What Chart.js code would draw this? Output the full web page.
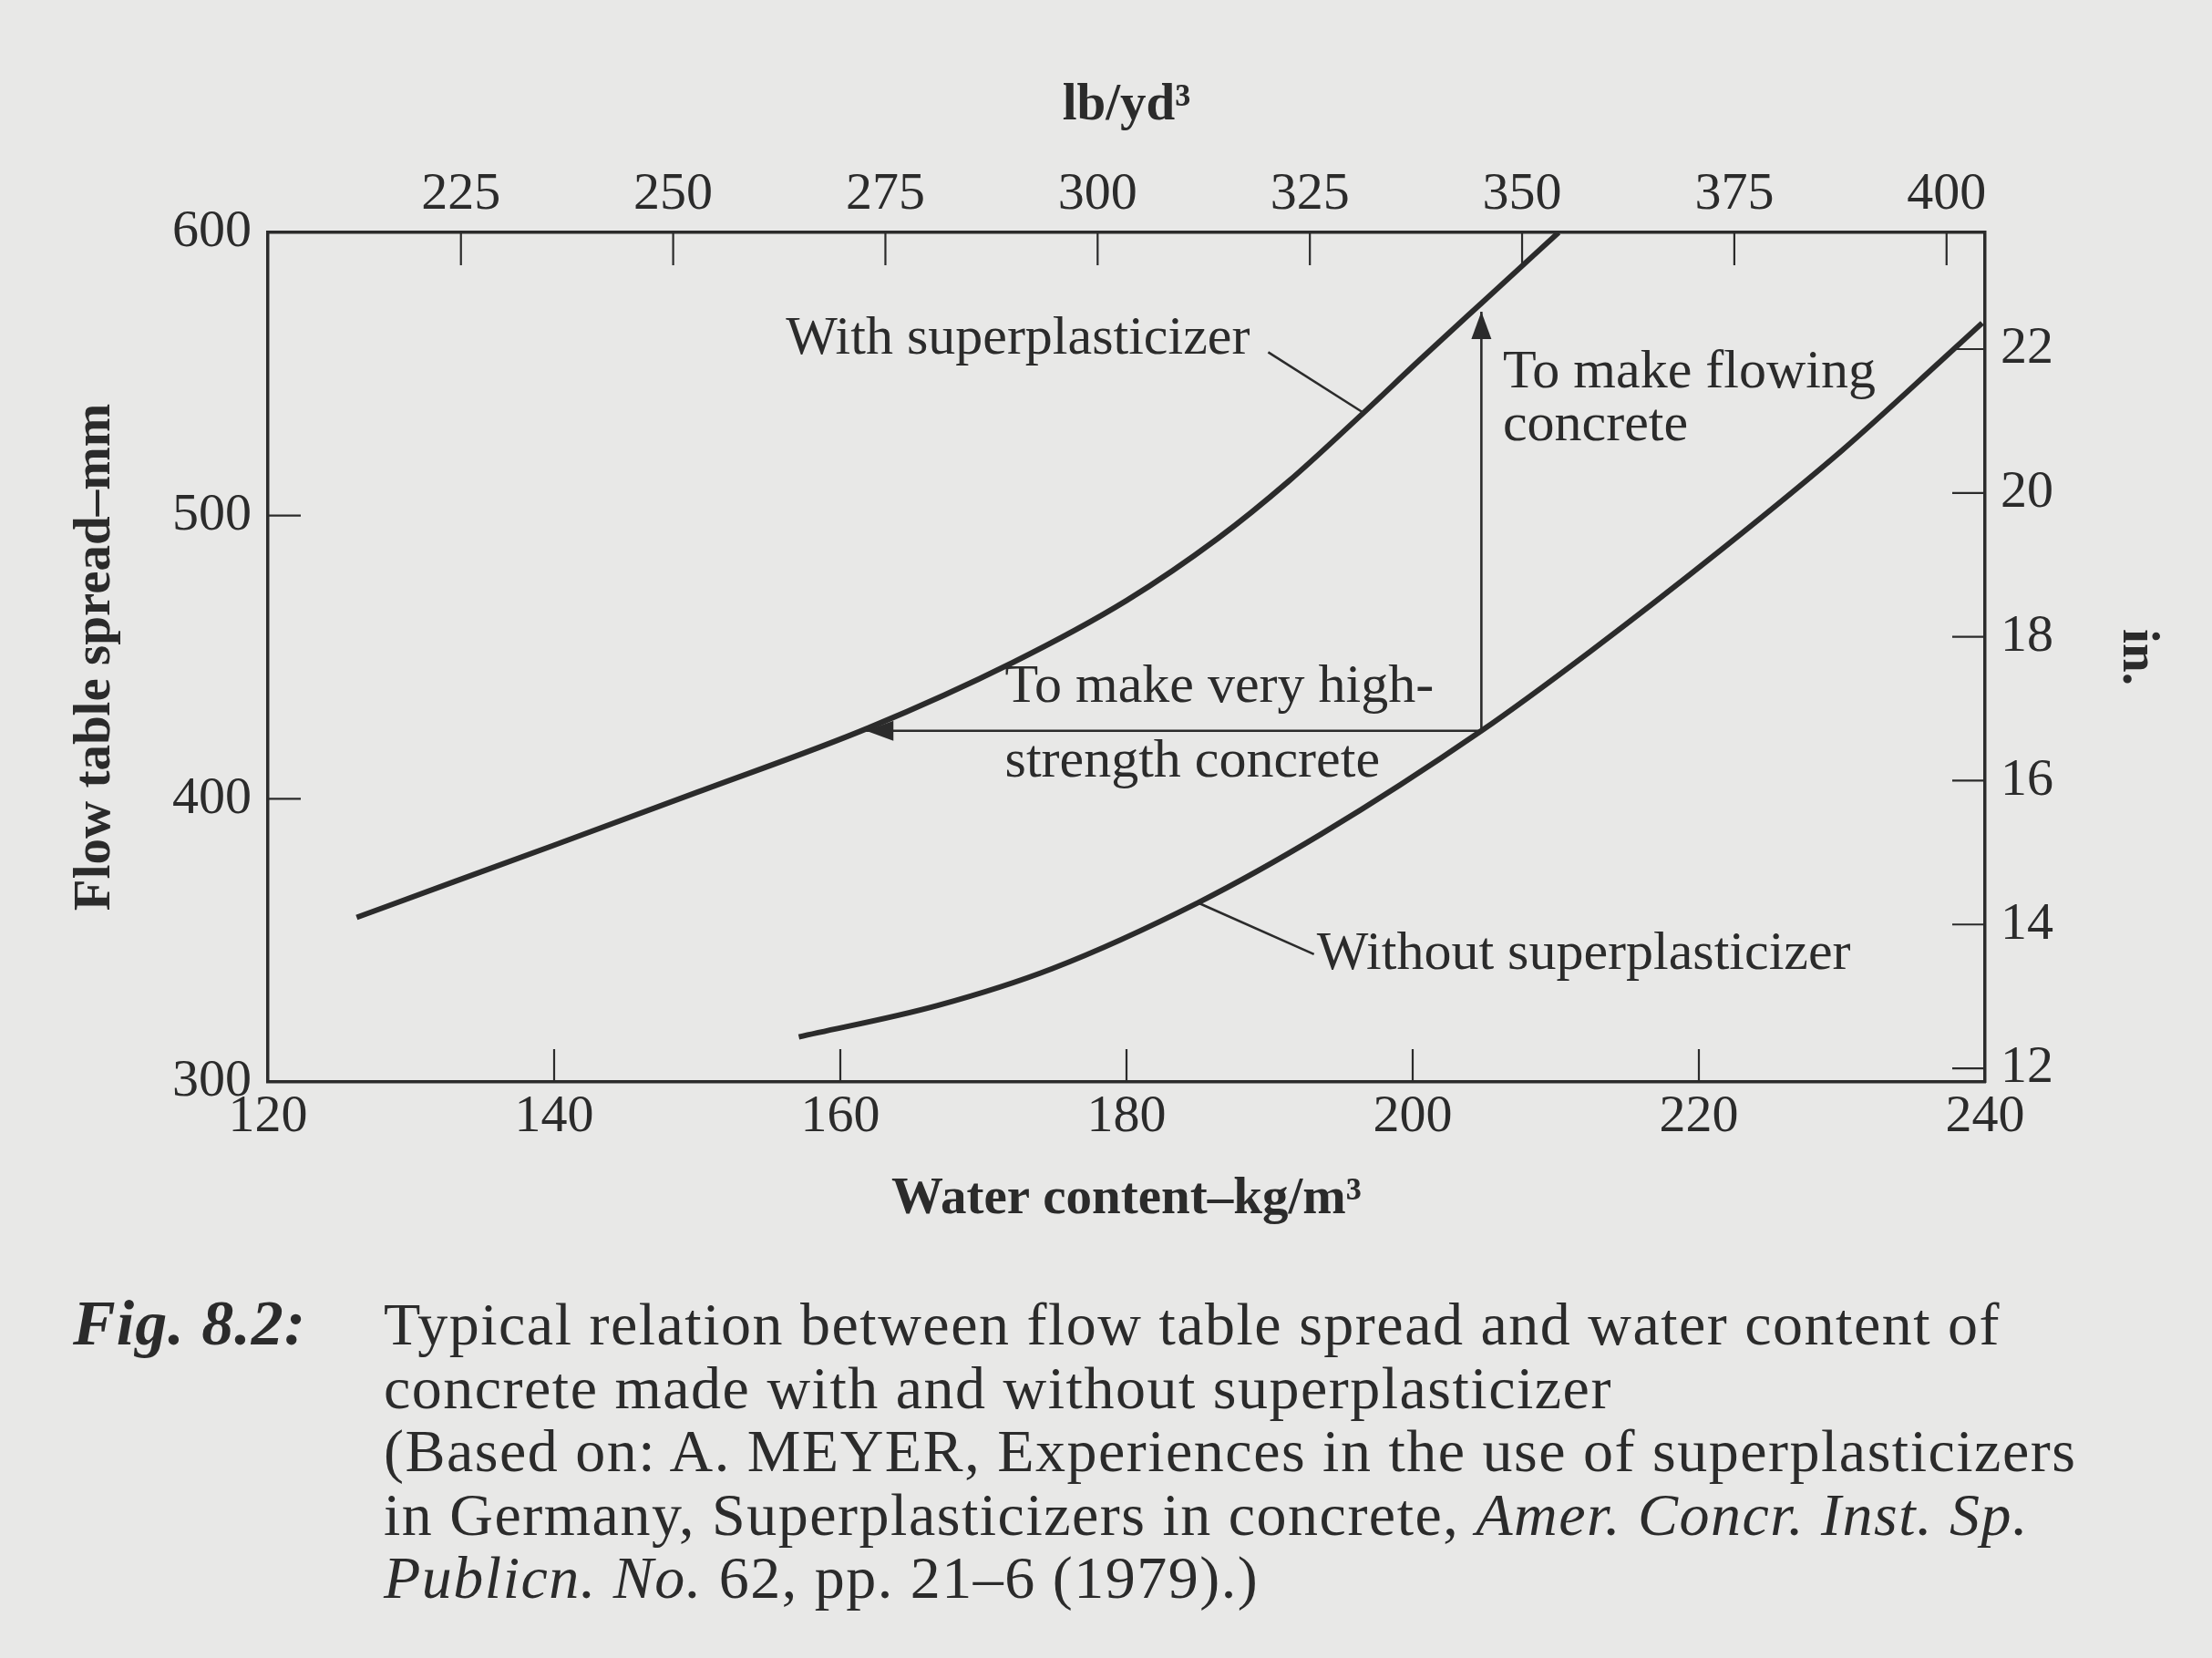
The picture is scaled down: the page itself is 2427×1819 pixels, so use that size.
<!DOCTYPE html>
<html>
<head>
<meta charset="utf-8">
<script src="https://cdn.jsdelivr.net/npm/chart.js@4.4.0/dist/chart.umd.min.js"></script>
<style>
html,body{margin:0;padding:0;background:#e8e8e7;}
#wrap{position:relative;width:2427px;height:1819px;overflow:hidden;background:#e8e8e7;}
canvas{position:absolute;left:0;top:0;}
.cap{position:absolute;font-family:"Liberation Serif","Times New Roman",serif;color:#2b2b2b;font-size:66px;line-height:69.5px;letter-spacing:1.5px;white-space:nowrap;}
</style>
</head>
<body>
<div id="wrap">
<canvas id="c" width="2427" height="1819" style="width:2427px;height:1819px"></canvas>
<div class="cap" style="left:80px;top:1417px;font-weight:bold;font-style:italic;font-size:70px;letter-spacing:1px;">Fig. 8.2:</div>
<div class="cap" style="left:421px;top:1418px;">Typical relation between flow table spread and water content of<br>concrete made with and without superplasticizer<br>(Based on: A. MEYER, Experiences in the use of superplasticizers<br>in Germany, Superplasticizers in concrete, <i>Amer. Concr. Inst. Sp.</i><br><i>Publicn. No.</i> 62, pp. 21–6 (1979).)</div>
</div>
<script>
// ---- data (water content kg/m3 vs flow table spread mm) ----
const withX = [126.2, 133, 140, 150, 162, 172, 180, 186.4, 191.3, 196.5, 200.5, 204.8, 210.2];
const withY = [358.1, 370.7, 383.6, 402.3, 425.1, 448, 470, 492, 512, 536, 555, 575, 600];
const withoutX = [157.1, 166.8, 174.8, 185, 193.6, 204.8, 212.4, 221.7, 230, 237, 239.8];
const withoutY = [315.9, 327, 340, 363.3, 387.5, 424, 452, 488.5, 523, 555, 568];
const xTicks = [120, 140, 160, 180, 200, 220, 240];
const yTicks = [300, 400, 500, 600];
const lbTicks = [225, 250, 275, 300, 325, 350, 375, 400];
const inTicks = [12, 14, 16, 18, 20, 22];
// arrows & leader lines in data coordinates [x1, y1, x2, y2]
const arrowFlowing = [204.8, 424, 204.8, 572];
const arrowStrength = [204.8, 424, 161.8, 424];
const leaderWith = [189.9, 557.7, 196.5, 536.5];
const leaderWithout = [184.9, 363.5, 193.1, 345.1];
// annotation text anchors (data coords, left / baseline)
const notes = [
  {text: 'With superplasticizer', x: 156.2, y: 557.2},
  {text: 'To make flowing', x: 206.3, y: 545.3},
  {text: 'concrete', x: 206.3, y: 526.6},
  {text: 'To make very high-', x: 171.5, y: 434.2},
  {text: 'strength concrete', x: 171.5, y: 407.8},
  {text: 'Without superplasticizer', x: 193.3, y: 339.9}
];
const LB_PER_KG = 1.68556;   // kg/m3 -> lb/yd3
const MM_PER_IN = 25.4;

const INK = '#2b2b2b';
const FONT = '"Liberation Serif", "Times New Roman", serif';
const tickFont = {family: FONT, size: 58};
const titleFont = {family: FONT, size: 57, weight: 'bold'};

const decor = {
  id: 'decor',
  afterDraw(chart) {
    const {ctx, chartArea: ca, scales} = chart;
    const x = scales.x, y = scales.y;
    ctx.save();
    ctx.strokeStyle = INK;
    ctx.fillStyle = INK;
    // inner tick marks
    const TL = 36;
    ctx.lineWidth = 2.2;
    ctx.beginPath();
    ['x', 'x2'].forEach(id => {
      const s = scales[id];
      s.ticks.forEach(t => {
        const p = s.getPixelForValue(t.value);
        if (p < ca.left + 4 || p > ca.right - 4) return;
        if (id === 'x') { ctx.moveTo(p, ca.bottom); ctx.lineTo(p, ca.bottom - TL); }
        else { ctx.moveTo(p, ca.top); ctx.lineTo(p, ca.top + TL); }
      });
    });
    ['y', 'y2'].forEach(id => {
      const s = scales[id];
      s.ticks.forEach(t => {
        const p = s.getPixelForValue(t.value);
        if (p < ca.top + 4 || p > ca.bottom - 4) return;
        if (id === 'y') { ctx.moveTo(ca.left, p); ctx.lineTo(ca.left + TL, p); }
        else { ctx.moveTo(ca.right, p); ctx.lineTo(ca.right - TL, p); }
      });
    });
    ctx.stroke();
    // leader lines & arrow shafts
    ctx.lineWidth = 2.6;
    [arrowFlowing, arrowStrength, leaderWith, leaderWithout].forEach(a => {
      ctx.beginPath();
      ctx.moveTo(x.getPixelForValue(a[0]), y.getPixelForValue(a[1]));
      ctx.lineTo(x.getPixelForValue(a[2]), y.getPixelForValue(a[3]));
      ctx.stroke();
    });
    // arrow heads
    const head = (a) => {
      const x1 = x.getPixelForValue(a[0]), y1 = y.getPixelForValue(a[1]);
      const x2 = x.getPixelForValue(a[2]), y2 = y.getPixelForValue(a[3]);
      const ang = Math.atan2(y2 - y1, x2 - x1);
      const L = 30, W = 11;
      ctx.beginPath();
      ctx.moveTo(x2, y2);
      ctx.lineTo(x2 - L * Math.cos(ang) + W * Math.sin(ang), y2 - L * Math.sin(ang) - W * Math.cos(ang));
      ctx.lineTo(x2 - L * Math.cos(ang) - W * Math.sin(ang), y2 - L * Math.sin(ang) + W * Math.cos(ang));
      ctx.closePath();
      ctx.fill();
    };
    head(arrowFlowing);
    head(arrowStrength);
    // annotation texts
    ctx.font = '60px ' + FONT;
    ctx.textAlign = 'left';
    ctx.textBaseline = 'alphabetic';
    notes.forEach(n => ctx.fillText(n.text, x.getPixelForValue(n.x), y.getPixelForValue(n.y)));
    ctx.restore();
  }
};

const toPts = (xs, ys) => xs.map((v, i) => ({x: v, y: ys[i]}));
const setTicks = arr => s => { s.ticks = arr.map(v => ({value: v})); };

new Chart(document.getElementById('c'), {
  type: 'line',
  data: {
    datasets: [
      {label: 'With superplasticizer', data: toPts(withX, withY), borderColor: INK, borderWidth: 6,
       pointRadius: 0, cubicInterpolationMode: 'monotone', fill: false, xAxisID: 'x', yAxisID: 'y'},
      {label: 'Without superplasticizer', data: toPts(withoutX, withoutY), borderColor: INK, borderWidth: 6,
       pointRadius: 0, cubicInterpolationMode: 'monotone', fill: false, xAxisID: 'x', yAxisID: 'y'}
    ]
  },
  options: {
    responsive: false,
    devicePixelRatio: 1,
    animation: false,
    layout: {padding: 0},
    plugins: {legend: {display: false}, tooltip: {enabled: false}},
    scales: {
      x: {
        type: 'linear', position: 'bottom', min: 120, max: 240,
        afterBuildTicks: setTicks(xTicks),
        ticks: {font: tickFont, color: INK, padding: 4, maxRotation: 0, autoSkip: false},
        grid: {display: false, drawTicks: false},
        border: {display: true, color: INK, width: 3.5},
        title: {display: true, text: 'Water content–kg/m³', font: titleFont, color: INK, padding: {top: 0, bottom: 469}},
        afterFit(s) { s.height = 632; }
      },
      x2: {
        type: 'linear', position: 'top', min: 120 * LB_PER_KG, max: 240 * LB_PER_KG,
        afterBuildTicks: setTicks(lbTicks),
        ticks: {font: tickFont, color: INK, padding: 6, maxRotation: 0, autoSkip: false},
        grid: {display: false, drawTicks: false},
        border: {display: true, color: INK, width: 3.5},
        title: {display: true, text: 'lb/yd³', font: titleFont, color: INK, padding: {top: 82, bottom: 0}},
        afterFit(s) { s.height = 255; }
      },
      y: {
        type: 'linear', position: 'left', min: 300, max: 600,
        afterBuildTicks: setTicks(yTicks),
        ticks: {font: tickFont, color: INK, padding: 18, autoSkip: false},
        grid: {display: false, drawTicks: false},
        border: {display: true, color: INK, width: 3.5},
        title: {display: true, text: 'Flow table spread–mm', font: titleFont, color: INK, padding: {top: 71, bottom: 0}},
        afterFit(s) { s.width = 294; }
      },
      y2: {
        type: 'linear', position: 'right', min: 300 / MM_PER_IN, max: 600 / MM_PER_IN,
        afterBuildTicks: setTicks(inTicks),
        ticks: {font: tickFont, color: INK, padding: 17, autoSkip: false},
        grid: {display: false, drawTicks: false},
        border: {display: true, color: INK, width: 3.5},
        title: {display: true, text: 'in.', font: titleFont, color: INK, padding: {top: 48, bottom: 0}},
        afterFit(s) { s.width = 249; }
      }
    }
  },
  plugins: [decor]
});
</script>
</body>
</html>
